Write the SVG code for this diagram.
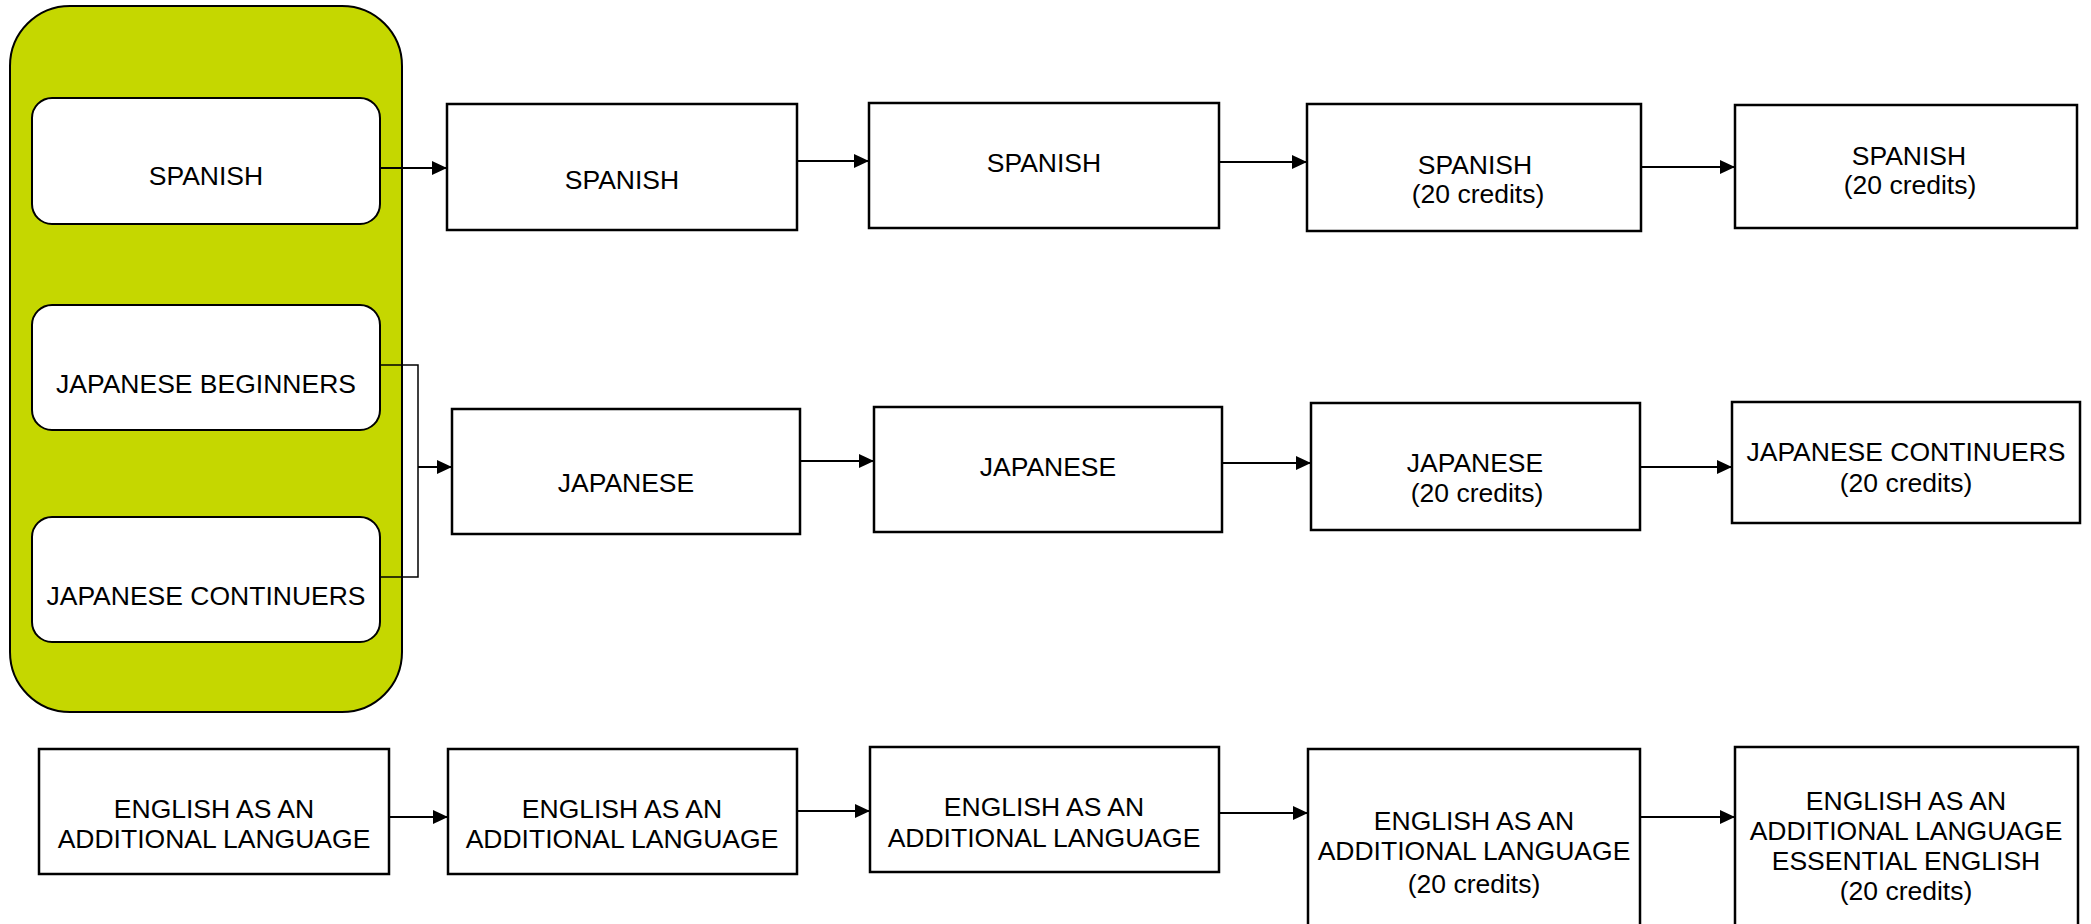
<svg xmlns="http://www.w3.org/2000/svg" width="2091" height="924" viewBox="0 0 2091 924">
<style>
  .box { fill: #ffffff; stroke: #000000; stroke-width: 2.5; }
  .rbox { fill: #ffffff; stroke: #000000; stroke-width: 2; }
  .group { fill: #c5d700; stroke: #000000; stroke-width: 2; }
  .lbl { font-family: "Liberation Sans", Arial, sans-serif; font-size: 26.5px; fill: #000000; text-anchor: middle; }
  .conn { fill: none; stroke: #000000; stroke-width: 2; }
  .thin { fill: none; stroke: #000000; stroke-width: 1.5; }
</style>
<defs>
  <marker id="arrow" markerUnits="userSpaceOnUse" markerWidth="15" markerHeight="14" refX="15" refY="7" orient="auto">
    <path d="M0,0 L15,7 L0,14 z" fill="#000000"/>
  </marker>
</defs>

<g id="container">
  <rect class="group" x="10" y="6" width="392" height="706" rx="60" ry="60"/>
</g>

<g id="n-spanish-0">
  <rect class="rbox" x="32" y="98" width="348" height="126" rx="20" ry="20"/>
  <text class="lbl" x="206" y="185">SPANISH</text>
</g>
<g id="n-japanese-beginners">
  <rect class="rbox" x="32" y="305" width="348" height="125" rx="20" ry="20"/>
  <text class="lbl" x="206" y="393">JAPANESE BEGINNERS</text>
</g>
<g id="n-japanese-continuers-0">
  <rect class="rbox" x="32" y="517" width="348" height="125" rx="20" ry="20"/>
  <text class="lbl" x="206" y="605">JAPANESE CONTINUERS</text>
</g>

<g id="n-spanish-1">
  <rect class="box" x="447" y="104" width="350" height="126"/>
  <text class="lbl" x="622" y="189">SPANISH</text>
</g>
<g id="n-spanish-2">
  <rect class="box" x="869" y="103" width="350" height="125"/>
  <text class="lbl" x="1044" y="172">SPANISH</text>
</g>
<g id="n-spanish-3">
  <rect class="box" x="1307" y="104" width="334" height="127"/>
  <text class="lbl" x="1475" y="174">SPANISH</text>
  <text class="lbl" x="1478" y="203">(20 credits)</text>
</g>
<g id="n-spanish-4">
  <rect class="box" x="1735" y="105" width="342" height="123"/>
  <text class="lbl" x="1909" y="165">SPANISH</text>
  <text class="lbl" x="1910" y="194">(20 credits)</text>
</g>

<g id="n-japanese-1">
  <rect class="box" x="452" y="409" width="348" height="125"/>
  <text class="lbl" x="626" y="492">JAPANESE</text>
</g>
<g id="n-japanese-2">
  <rect class="box" x="874" y="407" width="348" height="125"/>
  <text class="lbl" x="1048" y="476">JAPANESE</text>
</g>
<g id="n-japanese-3">
  <rect class="box" x="1311" y="403" width="329" height="127"/>
  <text class="lbl" x="1475" y="472">JAPANESE</text>
  <text class="lbl" x="1477" y="502">(20 credits)</text>
</g>
<g id="n-japanese-4">
  <rect class="box" x="1732" y="402" width="348" height="121"/>
  <text class="lbl" x="1906" y="461">JAPANESE CONTINUERS</text>
  <text class="lbl" x="1906" y="492">(20 credits)</text>
</g>

<g id="n-eal-1">
  <rect class="box" x="39" y="749" width="350" height="125"/>
  <text class="lbl" x="214" y="818">ENGLISH AS AN</text>
  <text class="lbl" x="214" y="848">ADDITIONAL LANGUAGE</text>
</g>
<g id="n-eal-2">
  <rect class="box" x="448" y="749" width="349" height="125"/>
  <text class="lbl" x="622" y="818">ENGLISH AS AN</text>
  <text class="lbl" x="622" y="848">ADDITIONAL LANGUAGE</text>
</g>
<g id="n-eal-3">
  <rect class="box" x="870" y="747" width="349" height="125"/>
  <text class="lbl" x="1044" y="816">ENGLISH AS AN</text>
  <text class="lbl" x="1044" y="847">ADDITIONAL LANGUAGE</text>
</g>
<g id="n-eal-4">
  <rect class="box" x="1308" y="749" width="332" height="200"/>
  <text class="lbl" x="1474" y="830">ENGLISH AS AN</text>
  <text class="lbl" x="1474" y="860">ADDITIONAL LANGUAGE</text>
  <text class="lbl" x="1474" y="893">(20 credits)</text>
</g>
<g id="n-eal-5">
  <rect class="box" x="1735" y="747" width="343" height="200"/>
  <text class="lbl" x="1906" y="810">ENGLISH AS AN</text>
  <text class="lbl" x="1906" y="840">ADDITIONAL LANGUAGE</text>
  <text class="lbl" x="1906" y="870">ESSENTIAL ENGLISH</text>
  <text class="lbl" x="1906" y="900">(20 credits)</text>
</g>

<g id="connectors">
  <line class="conn" x1="380" y1="168" x2="447" y2="168" marker-end="url(#arrow)"/>
  <line class="conn" x1="797" y1="161" x2="869" y2="161" marker-end="url(#arrow)"/>
  <line class="conn" x1="1219" y1="162" x2="1307" y2="162" marker-end="url(#arrow)"/>
  <line class="conn" x1="1641" y1="167" x2="1735" y2="167" marker-end="url(#arrow)"/>

  <polyline class="thin" points="380,365 418,365 418,577 380,577"/>
  <line class="conn" x1="418" y1="467" x2="452" y2="467" marker-end="url(#arrow)"/>
  <line class="conn" x1="800" y1="461" x2="874" y2="461" marker-end="url(#arrow)"/>
  <line class="conn" x1="1222" y1="463" x2="1311" y2="463" marker-end="url(#arrow)"/>
  <line class="conn" x1="1641" y1="467" x2="1732" y2="467" marker-end="url(#arrow)"/>

  <line class="conn" x1="389" y1="817" x2="448" y2="817" marker-end="url(#arrow)"/>
  <line class="conn" x1="797" y1="811" x2="870" y2="811" marker-end="url(#arrow)"/>
  <line class="conn" x1="1219" y1="813" x2="1308" y2="813" marker-end="url(#arrow)"/>
  <line class="conn" x1="1640" y1="817" x2="1735" y2="817" marker-end="url(#arrow)"/>
</g>
</svg>
